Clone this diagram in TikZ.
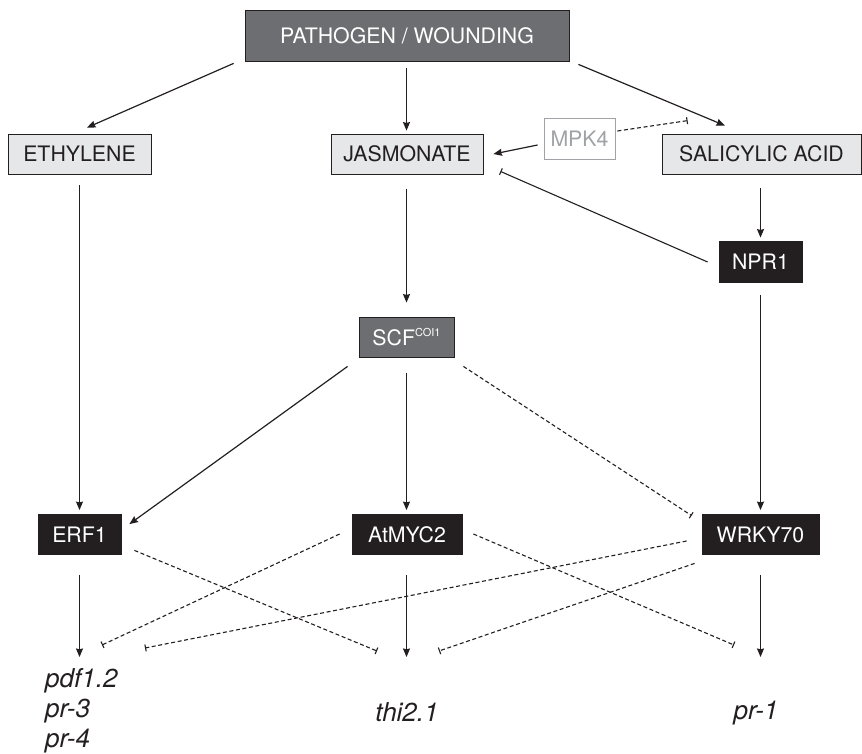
\documentclass[tikz,border=0pt]{standalone}
\usepackage{fontspec}
\setmainfont{TeX Gyre Heros}
\usetikzlibrary{arrows.meta,calc}
\definecolor{boxdark}{HTML}{6D6E71}
\definecolor{boxlight}{HTML}{E6E7E8}
\definecolor{boxblack}{HTML}{231F20}
\definecolor{edge}{HTML}{231F20}
\definecolor{mpkgray}{HTML}{A0A2A5}
\begin{document}
\begin{tikzpicture}[x=1pt,y=-1pt,
  every node/.style={inner sep=0pt, font=\fontsize{21.3}{25}\selectfont},
  box/.style={draw=edge, line width=0.8pt, minimum height=40pt},
  light/.style={box, fill=boxlight, text=edge},
  dark/.style={box, fill=boxdark, text=white},
  solidbox/.style={box, fill=boxblack, text=white},
  gene/.style={font=\fontsize{26}{30}\selectfont\itshape, text=edge},
  act/.style={draw=edge, line width=1.2pt, -{Stealth[length=8.5pt,width=7pt,inset=0.8pt]}},
  inh/.style={draw=edge, line width=1.1pt, -{Bar[width=7pt,line width=1.1pt]}},
  dsh/.style={dash pattern=on 4pt off 2.6pt}
]
\useasboundingbox (0,0) rectangle (862,754);

% signals and regulators
\node[dark, minimum width=324pt, minimum height=51pt] (path) at (407,35.5) {PATHOGEN / WOUNDING};
\node[light, minimum width=143pt] (eth) at (79.5,154) {ETHYLENE};
\node[light, minimum width=152pt] (jas) at (407,154) {JASMONATE};
\node[draw=mpkgray, text=mpkgray, line width=0.8pt, minimum width=71pt, minimum height=41pt] (mpk) at (579.5,138.5) {MPK4};
\node[light, minimum width=199pt] (sa) at (761.5,154) {SALICYLIC ACID};
\node[solidbox, minimum width=83pt, minimum height=41pt] (npr) at (760.5,261.5) {NPR1};
\node[dark, minimum width=95pt] (scf) at (406.5,337) {SCF\raisebox{8.5pt}{\fontsize{11}{11}\selectfont COI1}};
\node[solidbox, minimum width=83pt] (erf) at (79.5,534.5) {ERF1};
\node[solidbox, minimum width=110pt] (myc) at (407,534.5) {AtMYC2};
\node[solidbox, minimum width=117pt] (wrky) at (760.5,534.5) {WRKY70};

% target genes
\node[gene, anchor=north west, align=left] (pdf) at (45,668.5) {pdf1.2\\pr-3\\pr-4};
\node[gene, anchor=base] (thi) at (407,721) {thi2.1};
\node[gene, anchor=base] (pr1) at (756,719) {pr-1};

% upper signalling
\draw[act] ($(path.south west)+(-11,2)$) -- ($(eth.north)+(7.5,-6)$);
\draw[act] ($(path.south)+(-0.5,7)$) -- ($(jas.north)+(-0.5,-3)$);
\draw[act] ($(path.south east)+(9,3)$) -- ($(sa.north)+(-36.5,-8)$);
\draw[act] ($(mpk.west)+(-6,6.5)$) -- ($(jas.east)+(10,0)$);
\draw[inh,dsh] ($(mpk.east)+(2,-7.5)$) -- ($(sa.north west)+(26,-13)$);
\draw[inh] ($(npr.west)+(-11,0.5)$) -- ($(jas.south east)+(17,-3)$);
\draw[act] ($(sa.south)+(-1,14)$) -- ($(npr.north)+(0,-3)$);
\draw[act] ($(jas.south)+(-0.5,15)$) -- ($(scf.north)+(0,-14)$);

% middle layer
\draw[act] ($(scf.south west)+(-11,9)$) -- ($(erf.north east)+(8,10)$);
\draw[act] ($(scf.south)+(0,16)$) -- ($(myc.north)+(-0.5,-4)$);
\draw[inh,dsh] ($(scf.south east)+(9,9)$) -- ($(wrky.north west)+(-10,1.5)$);
\draw[act] ($(npr.south)+(0,13)$) -- ($(wrky.north)+(0,-4)$);
\draw[act] ($(eth.south)+(0,11)$) -- ($(erf.north)+(0,-4)$);

% gene activation
\draw[act] ($(erf.south)+(0,20.5)$) -- ($(pdf.north west)+(34.5,-11.5)$);
\draw[act] ($(myc.south)+(-0.5,20.5)$) -- ($(thi.base)+(-0.5,-64)$);
\draw[act] ($(wrky.south)+(0,20.5)$) -- ($(pr1.base)+(4.5,-62)$);

% gene repression
\draw[inh,dsh] ($(erf.south east)+(13,-4.5)$) -- ($(thi.base)+(-30,-70)$);
\draw[inh,dsh] ($(myc.west)+(-12,-0.5)$) -- ($(pdf.north west)+(57,-23.5)$);
\draw[inh,dsh] ($(myc.east)+(11,-0.5)$) -- ($(pr1.base)+(-22,-74)$);
\draw[inh,dsh] ($(wrky.west)+(-15,6.5)$) -- ($(pdf.north west)+(100,-20.5)$);
\draw[inh,dsh] ($(wrky.south west)+(-7,8.5)$) -- ($(thi.base)+(32,-70)$);
\end{tikzpicture}
\end{document}
